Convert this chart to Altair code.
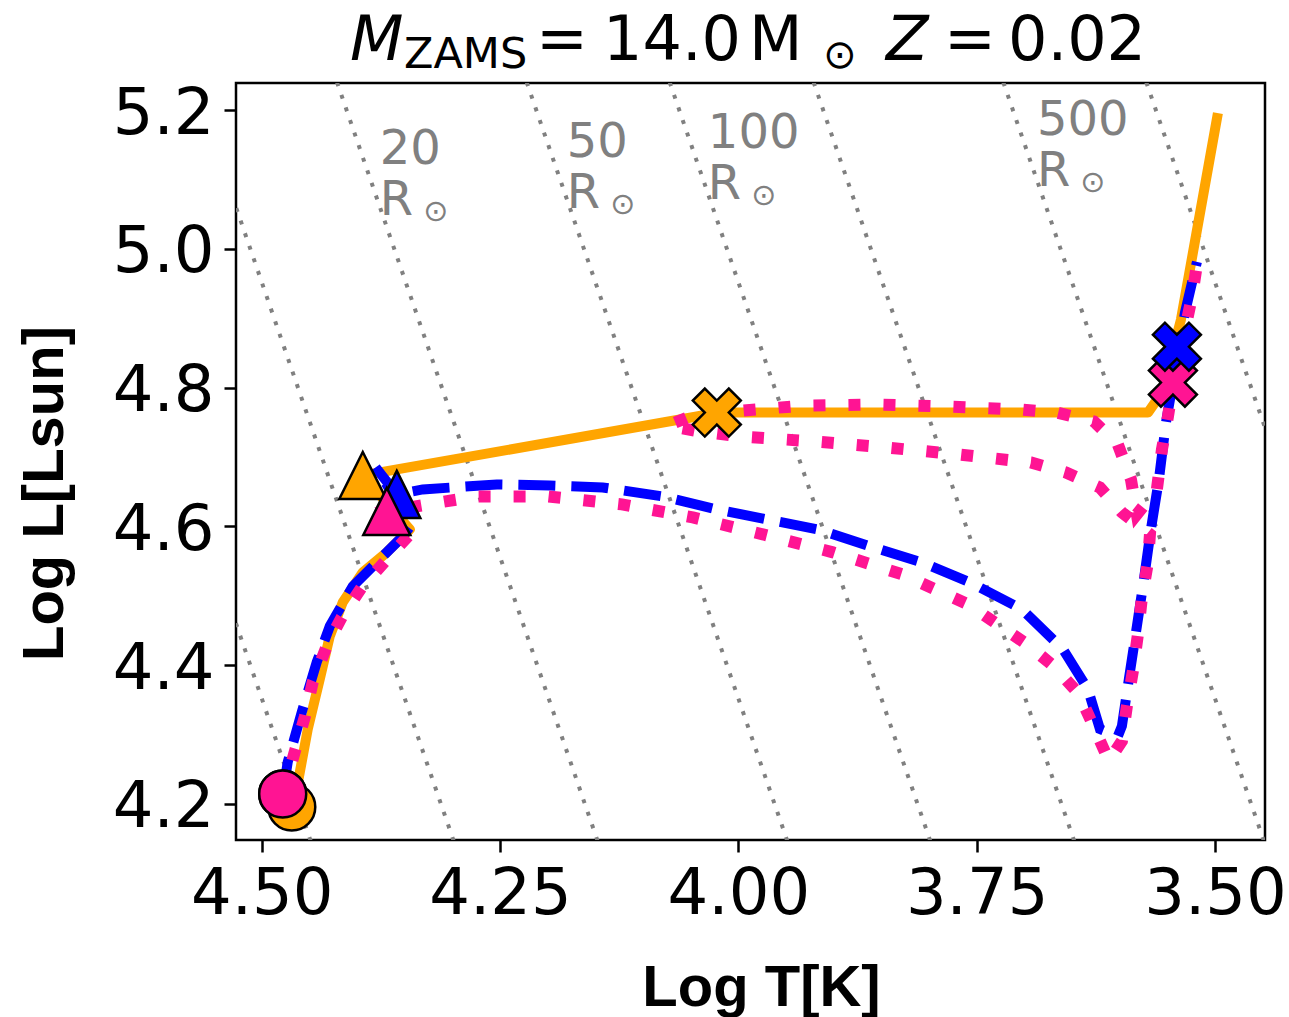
import altair as alt
import pandas as pd

# ---- evolutionary tracks in the HR diagram (log Teff, log L), in path order ----
orange_logT = [4.4685, 4.4633, 4.4517, 4.4391, 4.4286, 4.4150, 4.3940, 4.3688, 4.3447,
               4.3940, 4.0436, 4.0226, 3.5703, 3.5556, 3.5357, 3.4969]
orange_logL = [4.1957, 4.2216, 4.3079, 4.3799, 4.4418, 4.4907, 4.5338, 4.5626, 4.5957,
               4.6734, 4.7583, 4.7640, 4.7640, 4.7928, 4.8979, 5.1957]

blue_logT = [4.4780, 4.4727, 4.4580, 4.4423, 4.4286, 4.4045, 4.3762, 4.3520, 4.3426,
             4.3804, 4.3583, 4.3311, 4.2534, 4.1978, 4.1422, 4.0792, 4.0226, 3.9701,
             3.9166, 3.8620, 3.8075, 3.7571, 3.7025, 3.6595, 3.6333, 3.6207, 3.6018,
             3.5976, 3.5903, 3.5819, 3.5745, 3.5672, 3.5588, 3.5514, 3.5399, 3.5315,
             3.5189]
blue_logL = [4.2144, 4.2605, 4.3324, 4.4043, 4.4561, 4.5137, 4.5525, 4.5856, 4.6029,
             4.6849, 4.6461, 4.6533, 4.6604, 4.6590, 4.6561, 4.6432, 4.6245, 4.6101,
             4.5957, 4.5712, 4.5482, 4.5194, 4.4806, 4.4230, 4.3655, 4.3079, 4.2979,
             4.3123, 4.3799, 4.4561, 4.5238, 4.5957, 4.6676, 4.7497, 4.8403, 4.9079,
             4.9813]

pink_logT = [4.4780, 4.4654, 4.4549, 4.4465, 4.4318, 4.4161, 4.3951, 4.3688, 4.3447,
             4.3688, 4.3132, 4.2744, 4.1999, 4.1222, 4.0478, 3.9743, 3.9008, 3.8284,
             3.7592, 3.6973, 3.6679, 3.6427, 3.6270, 3.6112, 3.5976, 3.5924, 3.5861,
             3.5808, 3.5766, 3.5703, 3.5682,
             3.5976, 3.6207, 3.6564, 3.6931, 3.7686, 3.8442, 3.9197, 3.9974, 4.0404,
             4.0740, 4.0509, 4.0089, 3.9313, 3.8536, 3.7781, 3.7025, 3.6658, 3.6270,
             3.6018, 3.5881, 3.5819,
             3.5609, 3.5556, 3.5493, 3.5441, 3.5315, 3.5241, 3.5178]
pink_logL = [4.2144, 4.2749, 4.3252, 4.3756, 4.4274, 4.4691, 4.5123, 4.5525, 4.5885,
             4.6216, 4.6346, 4.6432, 4.6432, 4.6317, 4.6130, 4.5885, 4.5626, 4.5310,
             4.4878, 4.4302, 4.3971, 4.3583, 4.3108, 4.2619, 4.2907, 4.3410, 4.3914,
             4.4446, 4.4979, 4.5482, 4.5885,
             4.6202, 4.6561, 4.6777, 4.6921, 4.7036, 4.7137, 4.7223, 4.7295, 4.7367,
             4.7453, 4.7583, 4.7655, 4.7741, 4.7756, 4.7727, 4.7684, 4.7640, 4.7511,
             4.7180, 4.6676, 4.6173,
             4.6533, 4.7108, 4.7583, 4.8043, 4.8835, 4.9309, 4.9871]

# ---- evolutionary stage markers ----
circle_model = ["blue", "orange", "pink"]
circle_logT = [4.4780, 4.4685, 4.4780]
circle_logL = [4.2144, 4.1957, 4.2144]

triangle_model = ["orange", "blue", "pink"]
triangle_logT = [4.3940, 4.3583, 4.3688]
triangle_logL = [4.6734, 4.6461, 4.6216]

cross_model = ["orange", "pink", "blue"]
cross_logT = [4.0226, 3.5441, 3.5399]
cross_logL = [4.7640, 4.8072, 4.8590]

model_names = ["orange", "blue", "pink"]
model_colors = ["#FFA500", "#0000FF", "#FF1493"]

# ---- lines of constant stellar radius (R in solar units), end points ----
radius_values = [5, 10, 20, 50, 100, 200, 500, 1000]
radius_logT_top = [4.722, 4.572, 4.421, 4.222, 4.072, 3.921, 3.722, 3.572]
radius_logT_bottom = [4.447, 4.297, 4.146, 3.947, 3.797, 3.646, 3.447, 3.297]
radius_logL_top = 5.24
radius_logL_bottom = 4.14

radius_label = ["20", "50", "100", "500"]
radius_label_logT = [4.3762, 4.1800, 4.0320, 3.6868]
radius_label_logL = [5.1223, 5.1324, 5.1453, 5.1640]

x_ticks = [4.50, 4.25, 4.00, 3.75, 3.50]
y_ticks = [4.2, 4.4, 4.6, 4.8, 5.0, 5.2]

# ---- tables ----
def track(model, logT, logL):
    return pd.DataFrame({"model": model, "logT": logT, "logL": logL,
                         "step": list(range(len(logT)))})

orange_df = track("orange", orange_logT, orange_logL)
blue_df = track("blue", blue_logT, blue_logL)
pink_df = track("pink", pink_logT, pink_logL)

circles_df = pd.DataFrame({"model": circle_model, "logT": circle_logT, "logL": circle_logL})
triangles_df = pd.DataFrame({"model": triangle_model, "logT": triangle_logT, "logL": triangle_logL})
crosses_df = pd.DataFrame({"model": cross_model, "logT": cross_logT, "logL": cross_logL})

radius_rows = []
for r, t0, t1 in zip(radius_values, radius_logT_top, radius_logT_bottom):
    radius_rows.append({"R": r, "logT": t0, "logL": radius_logL_top, "step": 0})
    radius_rows.append({"R": r, "logT": t1, "logL": radius_logL_bottom, "step": 1})
radius_df = pd.DataFrame(radius_rows)

labels_df = pd.DataFrame({"num": radius_label, "logT": radius_label_logT,
                          "logL": radius_label_logL})

# ---- scales and axes ----
x_scale = alt.Scale(domain=[3.4475, 4.527], reverse=True, nice=False, zero=False)
y_scale = alt.Scale(domain=[4.148, 5.239], nice=False, zero=False)

x_axis = alt.Axis(values=x_ticks, format=".2f", title="Log T[K]",
                  titleX=525, titleY=165, titleAlign="center", titleBaseline="alphabetic",
                  titleAngle=0)
y_axis = alt.Axis(values=y_ticks, format=".1f", title="Log L[Lsun]",
                  titleX=-174, titleY=410, titleAlign="center", titleBaseline="alphabetic",
                  titleAngle=270, labelOffset=4)


def X():
    return alt.X("logT:Q", scale=x_scale, axis=x_axis)


def Y():
    return alt.Y("logL:Q", scale=y_scale, axis=y_axis)


color_scale = alt.Scale(domain=model_names, range=model_colors)

radius_lines = alt.Chart(radius_df).mark_line(
    clip=True, color="#808080", strokeWidth=4, strokeDash=[4, 9.3], strokeCap="butt"
).encode(x=X(), y=Y(), detail="R:N", order="step:Q")

orange_line = alt.Chart(orange_df).mark_line(
    clip=True, color="#FFA500", strokeWidth=10, strokeJoin="round"
).encode(x=X(), y=Y(), order="step:Q")

blue_line = alt.Chart(blue_df).mark_line(
    clip=True, color="#0000FF", strokeWidth=10, strokeDash=[37, 16], strokeCap="butt"
).encode(x=X(), y=Y(), order="step:Q")

pink_line = alt.Chart(pink_df).mark_line(
    clip=True, color="#FF1493", strokeWidth=12, strokeDash=[12, 23], strokeCap="butt"
).encode(x=X(), y=Y(), order="step:Q")

TRIANGLE = "M0,-1L-1,1L1,1Z"
CROSS = ("M0,0.5L-0.5,1L-1,0.5L-0.5,0L-1,-0.5L-0.5,-1L0,-0.5L0.5,-1"
         "L1,-0.5L0.5,0L1,0.5L0.5,1Z")


def markers(df, shape, size):
    return alt.Chart(df).mark_point(
        shape=shape, size=size, filled=True, opacity=1, fillOpacity=1,
        stroke="black", strokeWidth=2.5
    ).encode(x=X(), y=Y(), color=alt.Color("model:N", scale=color_scale, legend=None))


circle_pts = markers(circles_df, "circle", 2209)
triangle_pts = markers(triangles_df, TRIANGLE, 2209)
cross_pts = markers(crosses_df, CROSS, 2304)

label_base = alt.Chart(labels_df).encode(x=X(), y=Y())
label_num = label_base.mark_text(
    align="left", baseline="alphabetic", font="DejaVu Sans", fontSize=48, color="#808080"
).encode(text="num:N")
label_r = label_base.mark_text(
    align="left", baseline="alphabetic", font="DejaVu Sans", fontSize=48, color="#808080",
    dy=51
).encode(text=alt.value("R"))
label_sun = label_base.mark_text(
    align="center", baseline="middle", font="DejaVu Sans", fontSize=30, color="#808080",
    dx=56, dy=48
).encode(text=alt.value("⊙"))


# ---- title: M_ZAMS = 14.0 M_sun  Z = 0.02 ----
def title_piece(s, px, py, size, italic=False):
    kw = dict(align="left", baseline="alphabetic", font="DejaVu Sans",
              fontSize=size, color="black")
    if italic:
        kw["fontStyle"] = "italic"
    return alt.Chart(pd.DataFrame({"s": [s]})).mark_text(**kw).encode(
        text="s:N", x=alt.value(px), y=alt.value(py))


title_layers = [
    title_piece("M", 114, -23, 62, italic=True),
    title_piece("ZAMS", 168, -15, 43),
    title_piece("=", 300, -23, 62),
    title_piece("14.0", 367, -23, 62),
    title_piece("M", 513, -23, 62),
    title_piece("⊙", 587, -15, 40),
    title_piece("Z", 650, -23, 62, italic=True),
    title_piece("=", 708, -23, 62),
    title_piece("0.02", 772, -23, 62),
]

chart = alt.layer(
    radius_lines, orange_line, blue_line, pink_line,
    circle_pts, triangle_pts, cross_pts,
    label_num, label_r, label_sun,
    *title_layers
).properties(
    width=1029, height=757,
    autosize=alt.AutoSizeParams(type="none"),
    padding={"left": 236, "top": 83, "right": 24, "bottom": 177},
    background="white",
).configure_view(
    stroke="black", strokeWidth=2.5
).configure_axis(
    domain=False, grid=False,
    labelFont="DejaVu Sans", labelFontSize=64, labelColor="black",
    tickColor="black", tickWidth=2.5, tickSize=12, labelPadding=10,
    titleFont="Liberation Sans", titleFontWeight="bold", titleFontSize=58,
    titleColor="black",
)

chart.save("out.html", embed_options={"renderer": "svg", "actions": False})
